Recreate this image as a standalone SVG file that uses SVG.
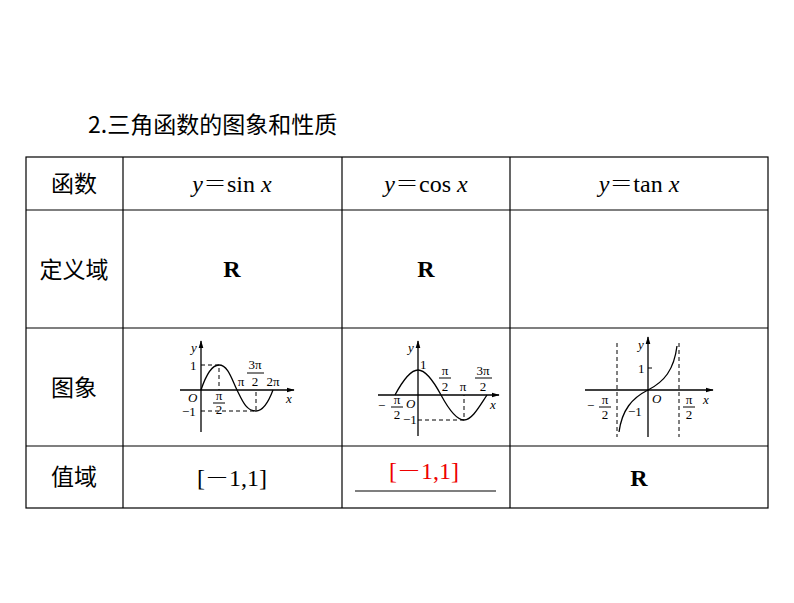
<svg xmlns="http://www.w3.org/2000/svg" width="794" height="603" viewBox="0 0 794 603">
<defs>
<style>
.t{font-family:"Liberation Serif","Noto Serif CJK SC","Noto Sans CJK SC",serif;font-size:24px;fill:#000}
.c{font-family:"Noto Sans CJK SC",sans-serif;font-size:23px;fill:#000}
.g{stroke:#000;stroke-width:1.3;fill:none}
.d{stroke:#000;stroke-width:1;stroke-dasharray:4,3;fill:none}
.s{font-family:"Liberation Serif",serif;font-size:13px;fill:#000}
.i{font-style:italic}
</style>
<marker id="a" viewBox="0 0 10 10" refX="9" refY="5" markerWidth="6" markerHeight="6" orient="auto"><path d="M0,2 L10,5 L0,8 z" fill="#000"/></marker>
</defs>
<rect width="794" height="603" fill="#fff"/>
<text x="88" y="133" class="c" font-size="24">2.三角函数的图象和性质</text>
<g id="table" stroke="#000" stroke-width="1.2" fill="none">
<rect x="26" y="157" width="742" height="351"/>
<line x1="26" y1="210" x2="768" y2="210"/>
<line x1="26" y1="328" x2="768" y2="328"/>
<line x1="26" y1="446" x2="768" y2="446"/>
<line x1="123" y1="157" x2="123" y2="508"/>
<line x1="342" y1="157" x2="342" y2="508"/>
<line x1="510" y1="157" x2="510" y2="508"/>
</g>
<g id="labels">
<text x="74" y="192" class="c" text-anchor="middle">函数</text>
<text x="74" y="278" class="c" text-anchor="middle">定义域</text>
<text x="74" y="396" class="c" text-anchor="middle">图象</text>
<text x="74" y="485" class="c" text-anchor="middle">值域</text>
<text x="232" y="192" class="t" text-anchor="middle"><tspan class="i">y</tspan>＝sin <tspan class="i">x</tspan></text>
<text x="426" y="192" class="t" text-anchor="middle"><tspan class="i">y</tspan>＝cos <tspan class="i">x</tspan></text>
<text x="639" y="192" class="t" text-anchor="middle"><tspan class="i">y</tspan>＝tan <tspan class="i">x</tspan></text>
<text x="232" y="277" class="t" font-weight="bold" text-anchor="middle">R</text>
<text x="426" y="277" class="t" font-weight="bold" text-anchor="middle">R</text>
<text x="232" y="486" class="t" text-anchor="middle">[－1,1]</text>
<text x="424" y="479" class="t" style="fill:#e00" text-anchor="middle">[－1,1]</text>
<line x1="355" y1="491" x2="496" y2="491" stroke="#000" stroke-width="1.2"/>
<text x="639" y="486" class="t" font-weight="bold" text-anchor="middle">R</text>
</g>
<g id="sin">
<line x1="180" y1="390" x2="294" y2="390" class="g" marker-end="url(#a)"/>
<line x1="201" y1="432" x2="201" y2="341" class="g" marker-end="url(#a)"/>
<path d="M201,390 C207,372 213,365 219,365 C228,365 232,380 237,390 C242,400 246,411 256,411 C264,411 270,398 273,390" class="g"/>
<path d="M201,365 H219 V390 M201,411 H256 V390" class="d"/>
<text x="191" y="352" class="s i">y</text>
<text x="190" y="370" class="s">1</text>
<text x="188" y="402" class="s i">O</text>
<text x="182" y="416" class="s">−1</text>
<text x="219" y="400" class="s" text-anchor="middle">π</text>
<line x1="213" y1="403" x2="225" y2="403" stroke="#000"/>
<text x="219" y="414" class="s" text-anchor="middle">2</text>
<text x="241" y="386" class="s" text-anchor="middle">π</text>
<text x="255" y="369" class="s" text-anchor="middle">3π</text>
<line x1="247" y1="373" x2="264" y2="373" stroke="#000"/>
<text x="255" y="386" class="s" text-anchor="middle">2</text>
<text x="273" y="386" class="s" text-anchor="middle">2π</text>
<text x="286" y="403" class="s i">x</text>
</g>
<g id="cos">
<line x1="378" y1="395" x2="499" y2="395" class="g" marker-end="url(#a)"/>
<line x1="418" y1="436" x2="418" y2="341" class="g" marker-end="url(#a)"/>
<path d="M395,395 C402,382 410,370 418,370 C426,370 434,382 441,395 C448,408 456,420 464,420 C472,420 479,407 487,395" class="g"/>
<path d="M418,420 H464 V395" class="d"/>
<text x="408" y="352" class="s i">y</text>
<text x="420" y="369" class="s">1</text>
<text x="406" y="408" class="s i">O</text>
<text x="403" y="424" class="s">−1</text>
<text x="378" y="410" class="s">−</text>
<text x="397" y="404" class="s" text-anchor="middle">π</text>
<line x1="391" y1="407" x2="403" y2="407" stroke="#000"/>
<text x="397" y="419" class="s" text-anchor="middle">2</text>
<text x="445" y="375" class="s" text-anchor="middle">π</text>
<line x1="439" y1="378" x2="451" y2="378" stroke="#000"/>
<text x="445" y="391" class="s" text-anchor="middle">2</text>
<text x="463" y="391" class="s" text-anchor="middle">π</text>
<text x="483" y="375" class="s" text-anchor="middle">3π</text>
<line x1="475" y1="378" x2="492" y2="378" stroke="#000"/>
<text x="483" y="391" class="s" text-anchor="middle">2</text>
<text x="490" y="409" class="s i">x</text>
</g>
<g id="tan">
<line x1="585" y1="390" x2="713" y2="390" class="g" marker-end="url(#a)"/>
<line x1="648" y1="437" x2="648" y2="337" class="g" marker-end="url(#a)"/>
<path d="M617,343 V437 M679,343 V437" class="d"/>
<path d="M619,432 C622,410 632,398 648,390 C664,382 674,370 677,346" class="g"/>
<line x1="648" y1="368" x2="652" y2="368" stroke="#000"/>
<text x="638" y="349" class="s i">y</text>
<text x="638" y="373" class="s">1</text>
<text x="652" y="403" class="s i">O</text>
<text x="628" y="416" class="s">−1</text>
<text x="587" y="410" class="s">−</text>
<text x="605" y="404" class="s" text-anchor="middle">π</text>
<line x1="599" y1="407" x2="611" y2="407" stroke="#000"/>
<text x="605" y="419" class="s" text-anchor="middle">2</text>
<text x="689" y="404" class="s" text-anchor="middle">π</text>
<line x1="683" y1="407" x2="695" y2="407" stroke="#000"/>
<text x="689" y="419" class="s" text-anchor="middle">2</text>
<text x="703" y="404" class="s i">x</text>
</g>
</svg>
